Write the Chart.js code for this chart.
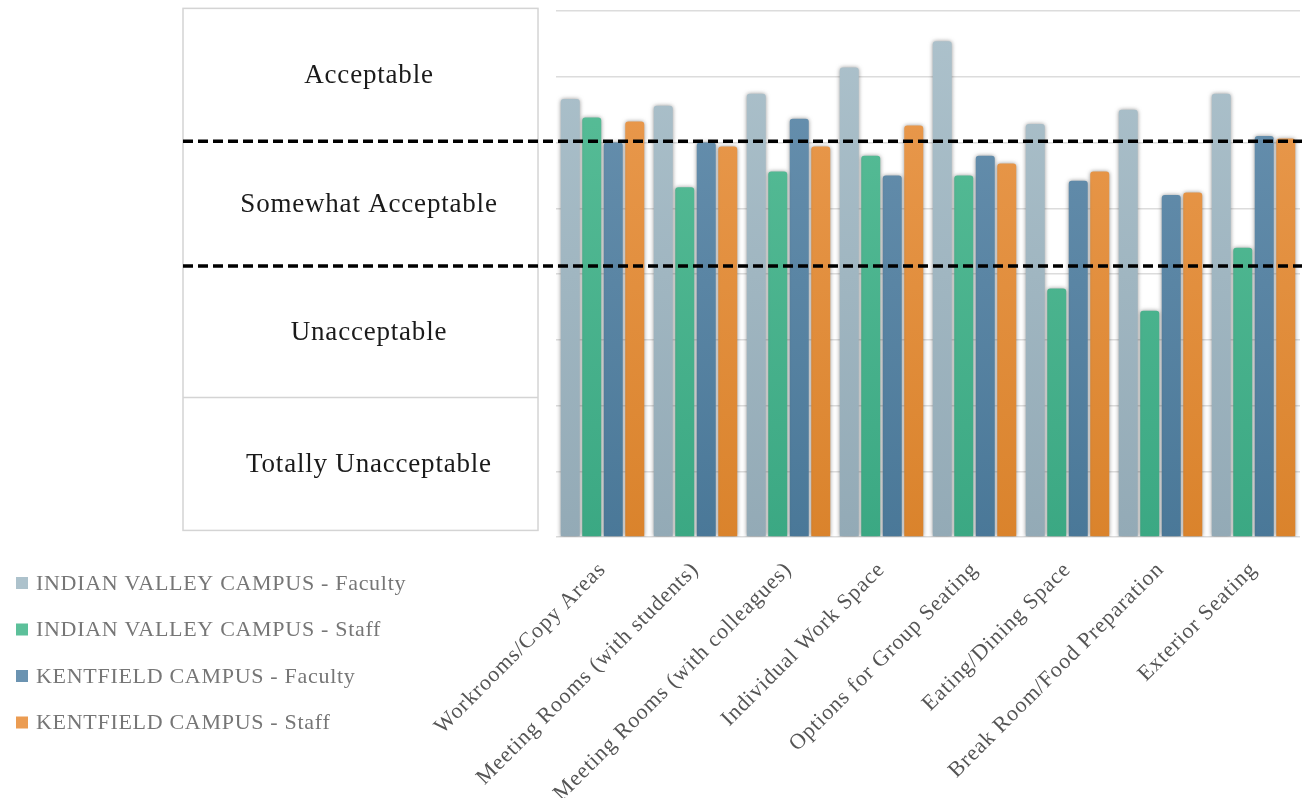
<!DOCTYPE html>
<html>
<head>
<meta charset="utf-8">
<script src="https://cdn.jsdelivr.net/npm/chart.js@4.4.1/dist/chart.umd.min.js"></script>
<style>
  html, body { margin: 0; padding: 0; background: #ffffff; }
  #wrap { position: relative; width: 1302px; height: 798px; }
</style>
</head>
<body>
<div id="wrap"><canvas id="chart"></canvas></div>
<script>
// Spaces rated by each campus group (mean rating, 0–4 scale)
const categories = [
  'Workrooms/Copy Areas',
  'Meeting Rooms (with students)',
  'Meeting Rooms (with colleagues)',
  'Individual Work Space',
  'Options for Group Seating',
  'Eating/Dining Space',
  'Break Room/Food Preparation',
  'Exterior Seating'
];
const seriesNames = [
  'INDIAN VALLEY CAMPUS - Faculty',
  'INDIAN VALLEY CAMPUS - Staff',
  'KENTFIELD CAMPUS - Faculty',
  'KENTFIELD CAMPUS - Staff'
];
const indianValleyFaculty = [3.33, 3.28, 3.37, 3.57, 3.77, 3.14, 3.25, 3.37];
const indianValleyStaff   = [3.19, 2.66, 2.78, 2.90, 2.75, 1.89, 1.72, 2.20];
const kentfieldFaculty    = [3.00, 3.00, 3.18, 2.75, 2.90, 2.71, 2.60, 3.05];
const kentfieldStaff      = [3.16, 2.97, 2.97, 3.13, 2.84, 2.78, 2.62, 3.03];

// Rating scale bands shown beside the bars, and where they split on the value axis
const ratingBands = ['Acceptable', 'Somewhat Acceptable', 'Unacceptable', 'Totally Unacceptable'];
const bandEdges = [4.02, 3.01, 2.06, 1.06, 0.05];
const dashedEdges = [3.01, 2.06];

// Value axis
const yMin = 0, yMax = 4, yStep = 0.5;

const palette = [
  { top: '#adc2cc', bottom: '#93aab6' },
  { top: '#5cc09a', bottom: '#3ba883' },
  { top: '#6b93b1', bottom: '#4a7898' },
  { top: '#eb9c52', bottom: '#da832c' }
];
const seriesValues = [indianValleyFaculty, indianValleyStaff, kentfieldFaculty, kentfieldStaff];

const SERIF = '"Liberation Serif", "Times New Roman", serif';

function gradientFor(idx) {
  return function (ctx) {
    const chart = ctx.chart;
    const area = chart.chartArea;
    if (!area) return palette[idx].top;
    const g = chart.ctx.createLinearGradient(0, area.top, 0, area.bottom);
    g.addColorStop(0, palette[idx].top);
    g.addColorStop(1, palette[idx].bottom);
    return g;
  };
}

const datasets = seriesNames.map((name, i) => ({
  label: name,
  data: seriesValues[i],
  backgroundColor: gradientFor(i),
  borderRadius: { topLeft: 3, topRight: 3, bottomLeft: 0, bottomRight: 0 },
  borderSkipped: 'bottom',
  categoryPercentage: 0.925,
  barPercentage: 0.884
}));

// Letter spacing for tick labels (measured and drawn with it)
const spacingPlugin = {
  id: 'tickSpacing',
  beforeLayout(chart) { chart.ctx.letterSpacing = '0.9px'; },
  beforeDraw(chart) { chart.ctx.letterSpacing = '0.9px'; }
};

// Soft shadow around each bar
const shadowPlugin = {
  id: 'barShadow',
  beforeDatasetsDraw(chart) {
    const ctx = chart.ctx;
    ctx.save();
    ctx.shadowColor = 'rgba(60,60,60,0.55)';
    ctx.shadowBlur = 4;
    ctx.shadowOffsetX = 0;
    ctx.shadowOffsetY = 0;
  },
  afterDatasetsDraw(chart) {
    chart.ctx.restore();
  }
};

// Rating table on the left, dashed band boundaries, and legend
const annotatePlugin = {
  id: 'ratingTable',
  afterDraw(chart) {
    const ctx = chart.ctx;
    const y = chart.scales.y;
    const area = chart.chartArea;
    const tableLeft = 183, tableRight = 538, textX = 369;
    const edgesPx = bandEdges.map(v => y.getPixelForValue(v));

    ctx.save();
    ctx.letterSpacing = '0px';
    // table frame
    ctx.strokeStyle = '#d4d4d4';
    ctx.lineWidth = 1.5;
    ctx.strokeRect(tableLeft, edgesPx[0], tableRight - tableLeft, edgesPx[4] - edgesPx[0]);
    ctx.beginPath();
    ctx.moveTo(tableLeft, edgesPx[3]);
    ctx.lineTo(tableRight, edgesPx[3]);
    ctx.stroke();

    // band names
    ctx.fillStyle = '#1a1a1a';
    ctx.font = '27px ' + SERIF;
    ctx.letterSpacing = '0.8px';
    ctx.textAlign = 'center';
    ctx.textBaseline = 'middle';
    ratingBands.forEach((label, i) => {
      const cy = (edgesPx[i] + edgesPx[i + 1]) / 2;
      ctx.fillText(label, textX, cy + 1);
    });

    // dashed boundaries across table and bars
    ctx.letterSpacing = '0px';
    ctx.strokeStyle = '#000000';
    ctx.lineWidth = 3.5;
    ctx.setLineDash([10, 5]);
    dashedEdges.forEach(v => {
      const py = y.getPixelForValue(v);
      ctx.beginPath();
      ctx.moveTo(tableLeft, py);
      ctx.lineTo(area.right + 2, py);
      ctx.stroke();
    });
    ctx.setLineDash([]);

    // legend
    const legendX = 16, legendY0 = 583, legendGap = 46.5;
    ctx.font = '22px ' + SERIF;
    ctx.letterSpacing = '0.7px';
    ctx.textAlign = 'left';
    ctx.textBaseline = 'middle';
    chart.data.datasets.forEach((ds, i) => {
      const cy = legendY0 + i * legendGap;
      ctx.fillStyle = palette[i].top;
      ctx.fillRect(legendX, cy - 6, 12, 12);
      ctx.fillStyle = '#767676';
      ctx.fillText(ds.label, legendX + 20, cy + 1);
    });
    ctx.restore();
  }
};

new Chart(document.getElementById('chart'), {
  type: 'bar',
  data: { labels: categories, datasets },
  options: {
    responsive: true,
    maintainAspectRatio: false,
    animation: false,
    layout: { padding: { left: 556, top: 11, right: 2, bottom: 0 } },
    plugins: {
      legend: { display: false },
      tooltip: { enabled: false }
    },
    scales: {
      x: {
        grid: { display: false, drawTicks: false },
        border: { display: false },
        ticks: {
          autoSkip: false,
          minRotation: 45,
          maxRotation: 45,
          padding: 20,
          color: '#555555',
          font: { family: SERIF, size: 22 }
        },
        afterFit(scale) { scale.height = 261; }
      },
      y: {
        min: yMin,
        max: yMax,
        grid: { color: '#dcdcdc', lineWidth: 1.5, drawTicks: false },
        border: { display: false },
        ticks: { display: false, stepSize: yStep },
        afterFit(scale) { scale.width = 0; }
      }
    }
  },
  plugins: [spacingPlugin, shadowPlugin, annotatePlugin]
});
</script>
</body>
</html>
